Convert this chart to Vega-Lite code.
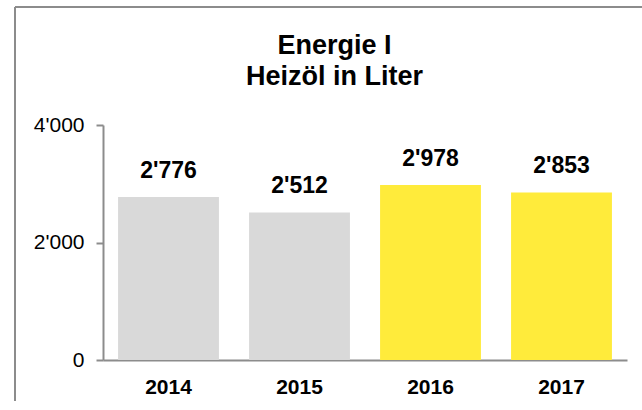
{
  "$schema": "https://vega.github.io/schema/vega-lite/v6.json",
  "width": 627,
  "height": 394,
  "autosize": {"type": "none"},
  "padding": {"left": 15, "top": 7, "right": 0, "bottom": 0},
  "background": "white",
  "config": {
    "locale": {"number": {"decimal": ".", "thousands": "'", "grouping": [3], "currency": ["", ""]}},
    "view": {"stroke": "#8c8c8c", "strokeWidth": 2, "strokeDash": [627, 1021, 394, 0]},
    "font": "Liberation Sans"
  },
  "title": {
    "text": ["Energie I", "Heizöl in Liter"],
    "fontSize": 27,
    "fontWeight": "bold",
    "color": "#000000",
    "anchor": "middle",
    "dx": 6,
    "offset": -105,
    "baseline": "alphabetic",
    "lineHeight": 31,
    "font": "Liberation Sans"
  },
  "data": {
    "values": [
      {"Jahr": "2014", "Liter": 2776},
      {"Jahr": "2015", "Liter": 2512},
      {"Jahr": "2016", "Liter": 2978},
      {"Jahr": "2017", "Liter": 2853}
    ]
  },
  "encoding": {
    "x": {
      "field": "Jahr",
      "type": "nominal",
      "sort": null,
      "scale": {"range": [88, 612], "paddingInner": 0.23, "paddingOuter": 0.115},
      "axis": {
        "labelAngle": 0,
        "title": null,
        "ticks": false,
        "tickSize": 0,
        "offset": -41,
        "labelFontSize": 21,
        "labelFontWeight": "bold",
        "labelColor": "#000000",
        "labelPadding": 16,
        "domainColor": "#8c8c8c",
        "domainWidth": 2
      }
    },
    "y": {
      "field": "Liter",
      "type": "quantitative",
      "scale": {"domain": [0, 4000], "range": [353, 118], "nice": false},
      "axis": {
        "values": [0, 2000, 4000],
        "labelExpr": "format(datum.value, ',')",
        "grid": false,
        "title": null,
        "offset": -88,
        "domainColor": "#8c8c8c",
        "domainWidth": 2,
        "tickColor": "#8c8c8c",
        "tickWidth": 2,
        "tickSize": 7,
        "labelFontSize": 21,
        "labelColor": "#000000",
        "labelPadding": 12
      }
    }
  },
  "layer": [
    {
      "mark": {"type": "bar"},
      "encoding": {
        "color": {
          "field": "Jahr",
          "type": "nominal",
          "scale": {"domain": ["2014", "2015", "2016", "2017"], "range": ["#d9d9d9", "#d9d9d9", "#ffeb3b", "#ffeb3b"]},
          "legend": null
        }
      }
    },
    {
      "mark": {"type": "text", "dy": -19, "baseline": "alphabetic", "fontSize": 23, "fontWeight": "bold", "color": "#000000"},
      "encoding": {
        "text": {"field": "Liter", "type": "quantitative", "format": ","}
      }
    }
  ]
}
